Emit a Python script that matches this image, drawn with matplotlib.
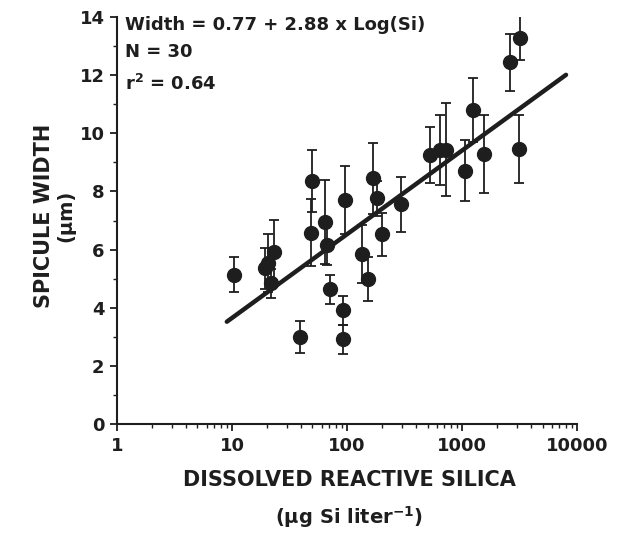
import numpy as np
import matplotlib
matplotlib.use("Agg")
import matplotlib.pyplot as plt
from matplotlib.ticker import FixedLocator, LogLocator, NullFormatter

plt.rcParams['font.family'] = ['DejaVu Sans']
plt.rcParams['font.weight'] = 'bold'
plt.rcParams['mathtext.default'] = 'bf'

# Dissolved reactive silica (ug Si / L), mean spicule width (um) and its error
silica = [10.4, 19.4, 20.5, 22.0, 23.2, 39, 49, 50, 64, 67, 71, 92, 93, 95,
          134, 153, 169, 181, 200, 295, 527, 644, 721, 1062, 1238, 1563,
          2614, 3090, 3194]
width = [5.13, 5.36, 5.55, 4.84, 5.93, 3.0, 6.58, 8.37, 6.96, 6.16, 4.63,
         2.91, 3.92, 7.7, 5.85, 4.98, 8.45, 7.76, 6.52, 7.56, 9.25, 9.43,
         9.43, 8.71, 10.8, 9.28, 12.44, 9.46, 13.27]
err = [0.6, 0.7, 1.0, 0.5, 1.1, 0.55, 1.15, 1.07, 1.45, 0.7, 0.5, 0.5, 0.5,
       1.17, 1.0, 0.76, 1.23, 0.6, 0.75, 0.94, 0.97, 1.2, 1.6, 1.05, 1.1,
       1.35, 0.97, 1.17, 0.75]

# Regression: Width = 0.77 + 2.88 log10(Si)
intercept, slope = 0.77, 2.88
fit_range = [9.0, 8000.0]

x_ticks = [1, 10, 100, 1000, 10000]
y_ticks = [0, 2, 4, 6, 8, 10, 12, 14]

ink = '#1e1e1e'

fig = plt.figure(figsize=(6.26, 5.33), dpi=100)
ax = fig.add_axes([0.187, 0.2045, 0.735, 0.7636])

ax.errorbar(silica, width, yerr=err, fmt='o', color=ink, ms=10,
            elinewidth=1.3, capsize=3.8, capthick=1.3, zorder=3)

xf = np.logspace(np.log10(fit_range[0]), np.log10(fit_range[1]), 50)
ax.plot(xf, intercept + slope * np.log10(xf), color=ink, lw=3.2, zorder=4,
        solid_capstyle='round')

ax.set_xscale('log')
ax.set_xlim(1, 10000)
ax.set_ylim(0, 14)
ax.set_xticks(x_ticks)
ax.set_xticklabels([str(t) for t in x_ticks])
ax.xaxis.set_minor_locator(LogLocator(base=10, subs=np.arange(2, 10)))
ax.xaxis.set_minor_formatter(NullFormatter())
ax.set_yticks(y_ticks)
ax.yaxis.set_minor_locator(FixedLocator(np.arange(1, 14, 2)))

for s in ['top', 'right']:
    ax.spines[s].set_visible(False)
for s in ['left', 'bottom']:
    ax.spines[s].set_linewidth(1.5)
    ax.spines[s].set_color(ink)

ax.tick_params(which='major', direction='out', length=5, width=1.3,
               labelsize=13, colors=ink, pad=4)
ax.tick_params(which='minor', direction='out', length=3, width=1.0, colors=ink)
for lbl in ax.get_xticklabels() + ax.get_yticklabels():
    lbl.set_fontweight('bold')

# axis titles
fig.text(0.558, 0.0994, 'DISSOLVED REACTIVE SILICA', fontsize=15,
         fontweight='bold', color=ink, ha='center', va='center')
fig.text(0.558, 0.030, '(\u00b5g Si liter$^{-1}$)', fontsize=14,
         fontweight='bold', color=ink, ha='center', va='center')
fig.text(0.070, 0.595, 'SPICULE WIDTH', fontsize=15, fontweight='bold',
         color=ink, ha='center', va='center', rotation=90)
fig.text(0.106, 0.595, '(\u00b5m)', fontsize=14, fontweight='bold',
         color=ink, ha='center', va='center', rotation=90)

# regression summary
fig.text(0.200, 0.953, 'Width = 0.77 + 2.88 x Log(Si)', fontsize=13,
         fontweight='bold', color=ink, ha='left', va='center')
fig.text(0.200, 0.902, 'N = 30', fontsize=13, fontweight='bold',
         color=ink, ha='left', va='center')
fig.text(0.200, 0.842, 'r$^{2}$ = 0.64', fontsize=13, fontweight='bold',
         color=ink, ha='left', va='center')

fig.savefig('out.png', dpi=100, facecolor='white')
